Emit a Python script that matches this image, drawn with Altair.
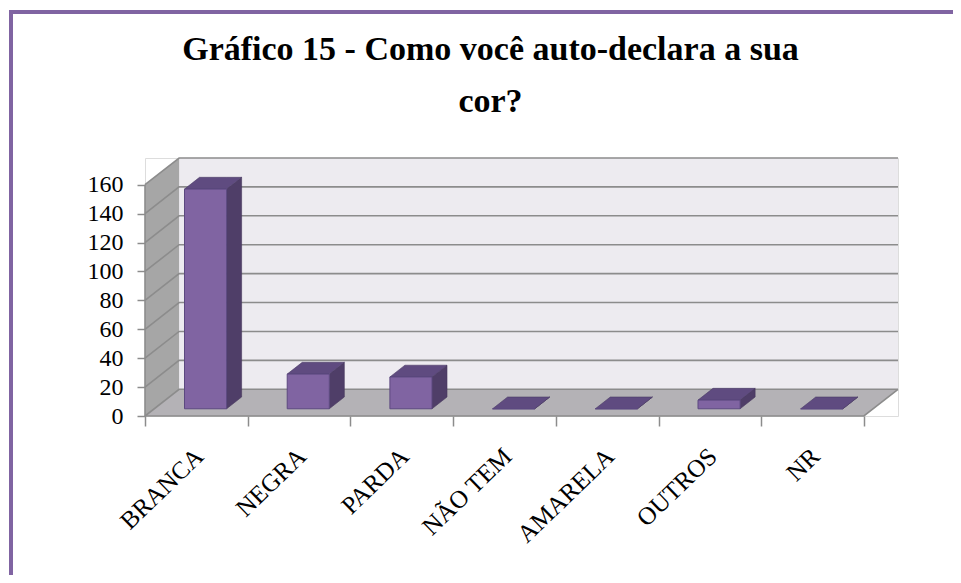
import json
import pandas as pd
import altair as alt

# ---- data ----
categories = ["BRANCA", "NEGRA", "PARDA", "NÃO TEM", "AMARELA", "OUTROS", "NR"]
values = [152, 24, 22, 0, 0, 6, 0]
y_ticks = [0, 20, 40, 60, 80, 100, 120, 140, 160]
title_lines = ["Gráfico 15 - Como você auto-declara a sua", "cor?"]

# ---- style: oblique (pseudo-3D) projection parameters ----
DX = 0.332      # depth shift along x (category units)
DY = 18.5       # depth shift along y (value units)
F, B = 0.27, 0.71   # bar front / back depth fractions
BAR_W = 0.41
N = len(categories)
YMAX = y_ticks[-1]

FRONT = "#8064A2"
SIDE = "#4F3E68"
TOP = "#5F4B80"
GRID = "#8C8C8C"
FONT = "Liberation Serif"

xs = alt.Scale(domain=[0, N + DX], nice=False, zero=False)
ys = alt.Scale(domain=[0, YMAX + DY], nice=False, zero=False)

label_expr = json.dumps(categories, ensure_ascii=False) + "[datum.value] || ''"

x_axis = alt.Axis(
    values=list(range(N + 1)), labelExpr=label_expr, labelAngle=-44,
    labelAlign="right", labelBaseline="middle", labelOffset=54,
    labelPadding=26, labelFont=FONT, labelFontSize=25, labelColor="black",
    tickSize=10, tickColor=GRID, tickWidth=1.5, domain=False, grid=False,
    title=None, labelOverlap=False, labelBound=False, labelFlush=False,
)
y_axis = alt.Axis(
    values=y_ticks, labelFont=FONT, labelFontSize=24, labelColor="black",
    labelPadding=14, tickSize=8, tickColor=GRID, tickWidth=1.5,
    domain=False, grid=False, title=None, labelOverlap=False, labelFlush=False,
)


def X(field="x"):
    return alt.X(f"{field}:Q", scale=xs, axis=x_axis)


def Y(field="y"):
    return alt.Y(f"{field}:Q", scale=ys, axis=y_axis)


# walls / floor
back = pd.DataFrame([{"x": DX, "x2": N + DX, "y": DY, "y2": YMAX + DY}])
side = pd.DataFrame([{"x": 0, "lo": 0, "hi": YMAX}, {"x": DX, "lo": DY, "hi": YMAX + DY}])
floor = pd.DataFrame([
    {"x": 0, "lo": 0, "hi": 0},
    {"x": DX, "lo": 0, "hi": DY},
    {"x": N, "lo": 0, "hi": DY},
    {"x": N + DX, "lo": DY, "hi": DY},
])

grid_rows = []
for v in y_ticks:
    grid_rows += [
        {"v": v, "x": 0, "y": v},
        {"v": v, "x": DX, "y": v + DY},
        {"v": v, "x": N + DX, "y": v + DY},
    ]
grid = pd.DataFrame(grid_rows)

edge = pd.DataFrame([{"x": 0, "y": 0}, {"x": N, "y": 0}, {"x": N + DX, "y": DY}])
front_axis = pd.DataFrame([{"x": 0, "y": 0, "y2": YMAX}])

# bars
FY, BY, DD = F * DY, B * DY, (B - F) * DX
front_rows, side_rows, top_rows = [], [], []
for i, (c, v) in enumerate(zip(categories, values)):
    xl = i + 0.5 + F * DX - BAR_W / 2
    xr = xl + BAR_W
    front_rows.append({"cat": c, "x": xl, "x2": xr, "y": FY, "y2": v + FY})
    side_rows += [
        {"cat": c, "x": xr, "lo": FY, "hi": v + FY},
        {"cat": c, "x": xr + DD, "lo": BY, "hi": v + BY},
    ]
    top_rows += [
        {"cat": c, "x": xl, "lo": v + FY, "hi": v + FY},
        {"cat": c, "x": xl + DD, "lo": v + FY, "hi": v + BY},
        {"cat": c, "x": xr, "lo": v + FY, "hi": v + BY},
        {"cat": c, "x": xr + DD, "lo": v + BY, "hi": v + BY},
    ]
front_df = pd.DataFrame(front_rows)
side_df = pd.DataFrame(side_rows)
top_df = pd.DataFrame(top_rows)

back_l = alt.Chart(back).mark_rect(fill="#EDEBF0").encode(
    x=X(), x2="x2:Q", y=Y(), y2="y2:Q"
)
side_l = alt.Chart(side).mark_area(fill="#A6A6A6", opacity=1).encode(
    x=X(), y=Y("hi"), y2="lo:Q"
)
floor_l = alt.Chart(floor).mark_area(fill="#B4B2B6", opacity=1).encode(
    x=X(), y=Y("hi"), y2="lo:Q"
)
grid_l = alt.Chart(grid).mark_line(color=GRID, strokeWidth=1.6).encode(
    x=X(), y=Y(), detail="v:N"
)
edge_l = alt.Chart(edge).mark_line(color=GRID, strokeWidth=1.6).encode(x=X(), y=Y())
faxis_l = alt.Chart(front_axis).mark_rule(color=GRID, strokeWidth=1.6).encode(
    x=X(), y=Y(), y2="y2:Q"
)
side_bar = alt.Chart(side_df).mark_area(fill=SIDE, opacity=1, stroke="#46385C", strokeWidth=0.6).encode(
    x=X(), y=Y("hi"), y2="lo:Q", detail="cat:N"
)
top_bar = alt.Chart(top_df).mark_area(fill=TOP, opacity=1, stroke="#4C3C66", strokeWidth=0.6).encode(
    x=X(), y=Y("hi"), y2="lo:Q", detail="cat:N"
)
front_bar = alt.Chart(front_df).mark_rect(fill=FRONT, stroke="#5C4980", strokeWidth=1).encode(
    x=X(), x2="x2:Q", y=Y(), y2="y2:Q"
)

border_df = pd.DataFrame([{"k": 1}])
border_left = alt.Chart(border_df).mark_rule(color="#8064A2", strokeWidth=4).encode(
    x=alt.value(-134), y=alt.value(-148), y2=alt.value(420)
)
border_top = alt.Chart(border_df).mark_rule(color="#8064A2", strokeWidth=4).encode(
    x=alt.value(-136), x2=alt.value(820), y=alt.value(-146)
)

chart = alt.layer(
    back_l, side_l, floor_l, grid_l, edge_l, faxis_l,
    side_bar, top_bar, front_bar, border_left, border_top,
).properties(
    width=753, height=258,
    autosize=alt.AutoSizeParams(type="none"),
    padding={"left": 137, "top": 150, "right": 55, "bottom": 159},
    title=alt.TitleParams(
        text=title_lines, font=FONT, fontSize=34, fontWeight="bold",
        color="black", anchor="middle", frame="group", dx=-31,
        lineHeight=52, offset=-111,
    ),
).configure_view(stroke=None).configure(background="white")

chart.save("out.html", embed_options={"renderer": "svg", "actions": False})
